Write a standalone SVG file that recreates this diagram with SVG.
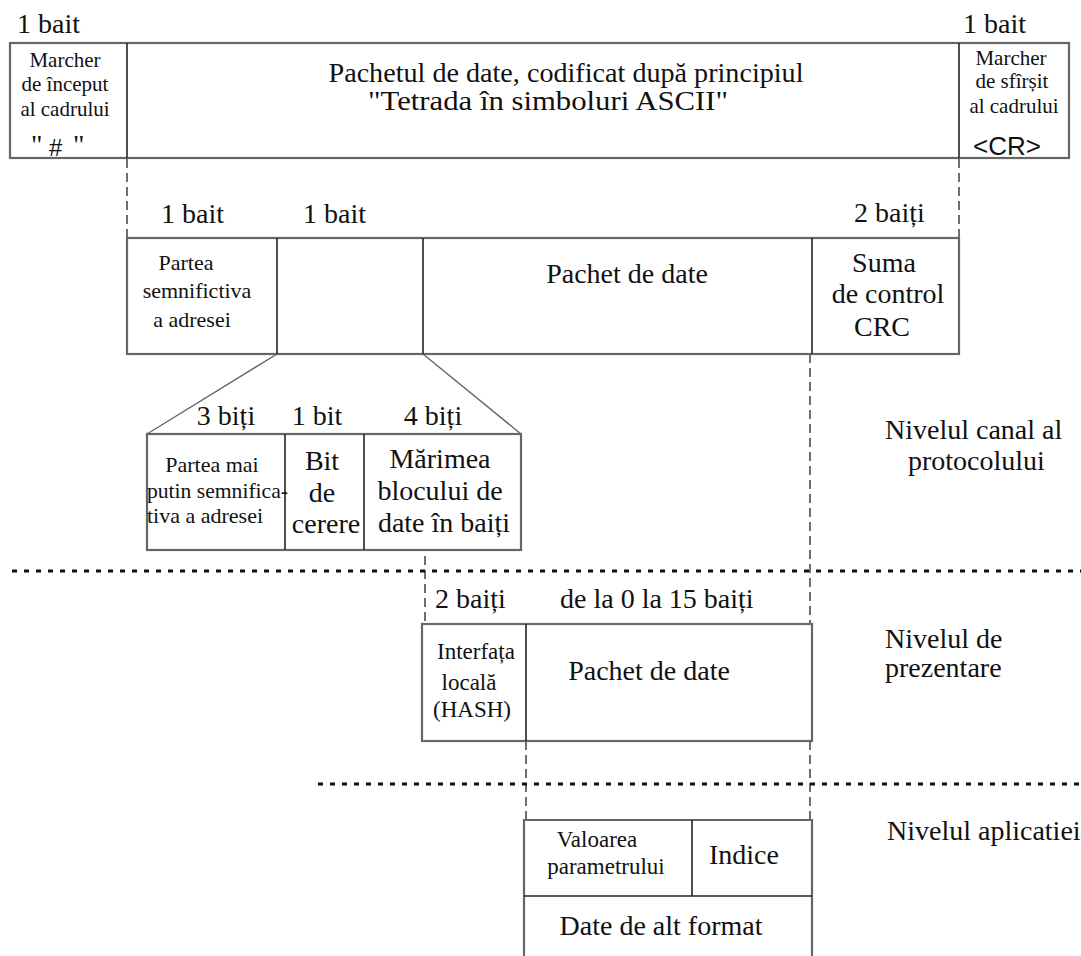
<svg xmlns="http://www.w3.org/2000/svg" width="1081" height="956" viewBox="0 0 1081 956">
<style>
text{fill:#111;font-family:'Liberation Serif','Times New Roman',serif}
.c{text-anchor:middle}
.f28{font-size:28px}
.f23{font-size:23px}
.f22{font-size:22px}
.f21{font-size:21px}
.box{fill:#fff;stroke:#666;stroke-width:2.2}
.div{stroke:#222;stroke-width:1.6;fill:none}
.dash{stroke:#222;stroke-width:1.3;stroke-dasharray:9 5;fill:none}
.dot{stroke:#111;stroke-width:3;stroke-dasharray:5 7;fill:none}
.slant{stroke:#666;stroke-width:1.4;fill:none}
.sans{font-family:'Liberation Sans',Arial,sans-serif}
</style>
<rect width="1081" height="956" fill="#fff"/>
<g id="connectors">
<line class="dash" x1="127" y1="159" x2="127" y2="238"/>
<line class="dash" x1="959" y1="159" x2="959" y2="238"/>
<line class="slant" x1="277" y1="354" x2="147" y2="434"/>
<line class="slant" x1="423" y1="354" x2="521" y2="434"/>
<line class="dash" x1="425" y1="556" x2="425" y2="624"/>
<line class="dash" x1="810" y1="354" x2="810" y2="624"/>
<line class="dash" x1="526" y1="741" x2="526" y2="820"/>
<line class="dash" x1="810" y1="741" x2="810" y2="820"/>
<line class="dot" x1="12" y1="571" x2="1081" y2="571"/>
<line class="dot" x1="318" y1="784" x2="1081" y2="784"/>
</g>
<g id="frame">
<text class="f28" x="17" y="33">1 bait</text>
<text class="f28" x="963" y="33">1 bait</text>
<rect class="box" x="10" y="43" width="1059" height="115"/>
<line class="div" x1="127" y1="43" x2="127" y2="158"/>
<line class="div" x1="959" y1="43" x2="959" y2="158"/>
<text class="f21 c" x="65" y="67">Marcher</text>
<text class="f21 c" x="65" y="91">de început</text>
<text class="f21 c" x="65" y="116">al cadrului</text>
<text class="f28" x="31" y="154">"</text>
<text class="sans" font-size="24" x="49" y="156">#</text>
<text class="f28" x="73" y="154">"</text>
<text class="f28 c" x="566" y="82" textLength="475" lengthAdjust="spacingAndGlyphs">Pachetul de date, codificat după principiul</text>
<text class="f28 c" x="548" y="110" textLength="360" lengthAdjust="spacingAndGlyphs">"Tetrada în simboluri ASCII"</text>
<text class="f21 c" x="1011" y="65">Marcher</text>
<text class="f21 c" x="1012" y="88">de sfîrșit</text>
<text class="f21 c" x="1014" y="113">al cadrului</text>
<text class="c sans" font-size="26" x="1007" y="155">&lt;CR&gt;</text>
</g>
<g id="channel-packet">
<text class="f28" x="161" y="223">1 bait</text>
<text class="f28" x="303" y="223">1 bait</text>
<text class="f28" x="854" y="222">2 baiți</text>
<rect class="box" x="127" y="238" width="832" height="116"/>
<line class="div" x1="277" y1="238" x2="277" y2="354"/>
<line class="div" x1="423" y1="238" x2="423" y2="354"/>
<line class="div" x1="812" y1="238" x2="812" y2="354"/>
<text class="f22 c" x="186" y="270">Partea</text>
<text class="f22 c" x="197" y="298">semnifictiva</text>
<text class="f22 c" x="192" y="327">a adresei</text>
<text class="f28 c" x="627" y="283">Pachet de date</text>
<text class="f28 c" x="884" y="272">Suma</text>
<text class="f28 c" x="888" y="303">de control</text>
<text class="f28 c" x="882" y="336">CRC</text>
</g>
<g id="byte-detail">
<text class="f28 c" x="226" y="425">3 biți</text>
<text class="f28 c" x="317" y="425">1 bit</text>
<text class="f28 c" x="433" y="425">4 biți</text>
<rect class="box" x="147" y="434" width="374" height="116"/>
<line class="div" x1="285" y1="434" x2="285" y2="550"/>
<line class="div" x1="364" y1="434" x2="364" y2="550"/>
<text class="f22 c" x="212" y="472">Partea mai</text>
<text class="f22" x="147" y="498" textLength="141" lengthAdjust="spacingAndGlyphs">putin semnifica-</text>
<text class="f22" x="147" y="523">tiva a adresei</text>
<text class="f28 c" x="322" y="470">Bit</text>
<text class="f28 c" x="322" y="502">de</text>
<text class="f28 c" x="326" y="533">cerere</text>
<text class="f28 c" x="440" y="468">Mărimea</text>
<text class="f28 c" x="440" y="500">blocului de</text>
<text class="f28 c" x="444" y="532">date în baiți</text>
</g>
<g id="presentation-packet">
<text class="f28" x="435" y="608">2 baiți</text>
<text class="f28" x="560" y="608">de la 0 la 15 baiți</text>
<rect class="box" x="422" y="624" width="390" height="117"/>
<line class="div" x1="526" y1="624" x2="526" y2="741"/>
<text class="f23 c" x="476" y="659">Interfața</text>
<text class="f23 c" x="469" y="690">locală</text>
<text class="f23 c" x="472" y="717">(HASH)</text>
<text class="f28 c" x="649" y="680">Pachet de date</text>
</g>
<g id="application-packet">
<path class="box" d="M524 956 V820 H812 V956"/>
<line class="div" x1="692" y1="820" x2="692" y2="896"/>
<line class="div" x1="524" y1="896" x2="812" y2="896"/>
<text class="f23 c" x="597" y="847">Valoarea</text>
<text class="f23 c" x="606" y="874">parametrului</text>
<text class="f28 c" x="744" y="864">Indice</text>
<text class="f28 c" x="661" y="935">Date de alt format</text>
</g>
<g id="levels">
<text class="f28" x="885" y="439">Nivelul canal al</text>
<text class="f28" x="908" y="470">protocolului</text>
<text class="f28" x="885" y="648">Nivelul de</text>
<text class="f28" x="885" y="677">prezentare</text>
<text class="f28" x="887" y="840">Nivelul aplicatiei</text>
</g>
</svg>
